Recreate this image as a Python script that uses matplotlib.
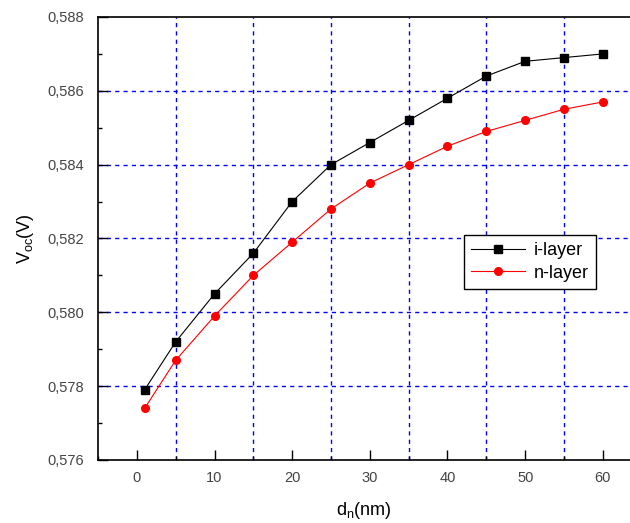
import numpy as np
import matplotlib.pyplot as plt
from matplotlib.ticker import MultipleLocator, FuncFormatter

plt.rcParams['font.family'] = ['Liberation Sans', 'DejaVu Sans']

# thickness of layer (nm)
d_nm = [1, 5, 10, 15, 20, 25, 30, 35, 40, 45, 50, 55, 60]
voc_i = [0.5779, 0.5792, 0.5805, 0.5816, 0.5830, 0.5840, 0.5846,
         0.5852, 0.5858, 0.5864, 0.5868, 0.5869, 0.5870]
voc_n = [0.5774, 0.5787, 0.5799, 0.5810, 0.5819, 0.5828, 0.5835,
         0.5840, 0.5845, 0.5849, 0.5852, 0.5855, 0.5857]

fig = plt.figure(figsize=(6.3, 5.23), dpi=100)
ax = fig.add_axes([0.1556, 0.1205, 0.8444, 0.847])

ax.plot(d_nm, voc_i, color='black', lw=0.8, marker='s', ms=5.5, label='i-layer')
ax.plot(d_nm, voc_n, color='red', lw=0.8, marker='o', ms=5.5, label='n-layer')

ax.set_xlim(-5, 63.5)
ax.set_ylim(0.576, 0.588)
ax.xaxis.set_major_locator(MultipleLocator(10))
ax.xaxis.set_minor_locator(MultipleLocator(5))
ax.yaxis.set_major_locator(MultipleLocator(0.002))
ax.yaxis.set_minor_locator(MultipleLocator(0.001))
ax.yaxis.set_major_formatter(FuncFormatter(lambda v, p: f'{v:.3f}'.replace('.', ',')))

ax.tick_params(which='both', direction='in', labelsize=10.5, labelcolor='#444444')
ax.tick_params(which='major', length=7, width=1)
ax.tick_params(which='minor', length=3, width=1)
ax.tick_params(axis='x', pad=8)
ax.tick_params(axis='y', pad=10)

# dashed blue grid: vertical on minor x ticks, horizontal on major y ticks
for xv in [5, 15, 25, 35, 45, 55]:
    ax.axvline(xv, color='blue', ls=(0, (3, 3)), lw=1, zorder=0)
for yv in [0.578, 0.580, 0.582, 0.584, 0.586]:
    ax.axhline(yv, color='blue', ls=(0, (3, 3)), lw=1, zorder=0)

ax.spines['right'].set_visible(False)
for s in ['left', 'bottom', 'top']:
    ax.spines[s].set_linewidth(1.2)

ax.set_xlabel('d$_\\mathregular{n}$(nm)', fontsize=13, labelpad=11)
ax.set_ylabel('V$_\\mathregular{oc}$(V)', fontsize=13, labelpad=8)

leg = ax.legend(loc='upper left', bbox_to_anchor=(0.688, 0.508), fontsize=13,
                fancybox=False, edgecolor='black', framealpha=1,
                borderaxespad=0, handlelength=3.0, borderpad=0.4,
                labelspacing=0.3, handletextpad=0.45)
leg.get_frame().set_linewidth(1.0)

fig.savefig('out.png', dpi=100)
